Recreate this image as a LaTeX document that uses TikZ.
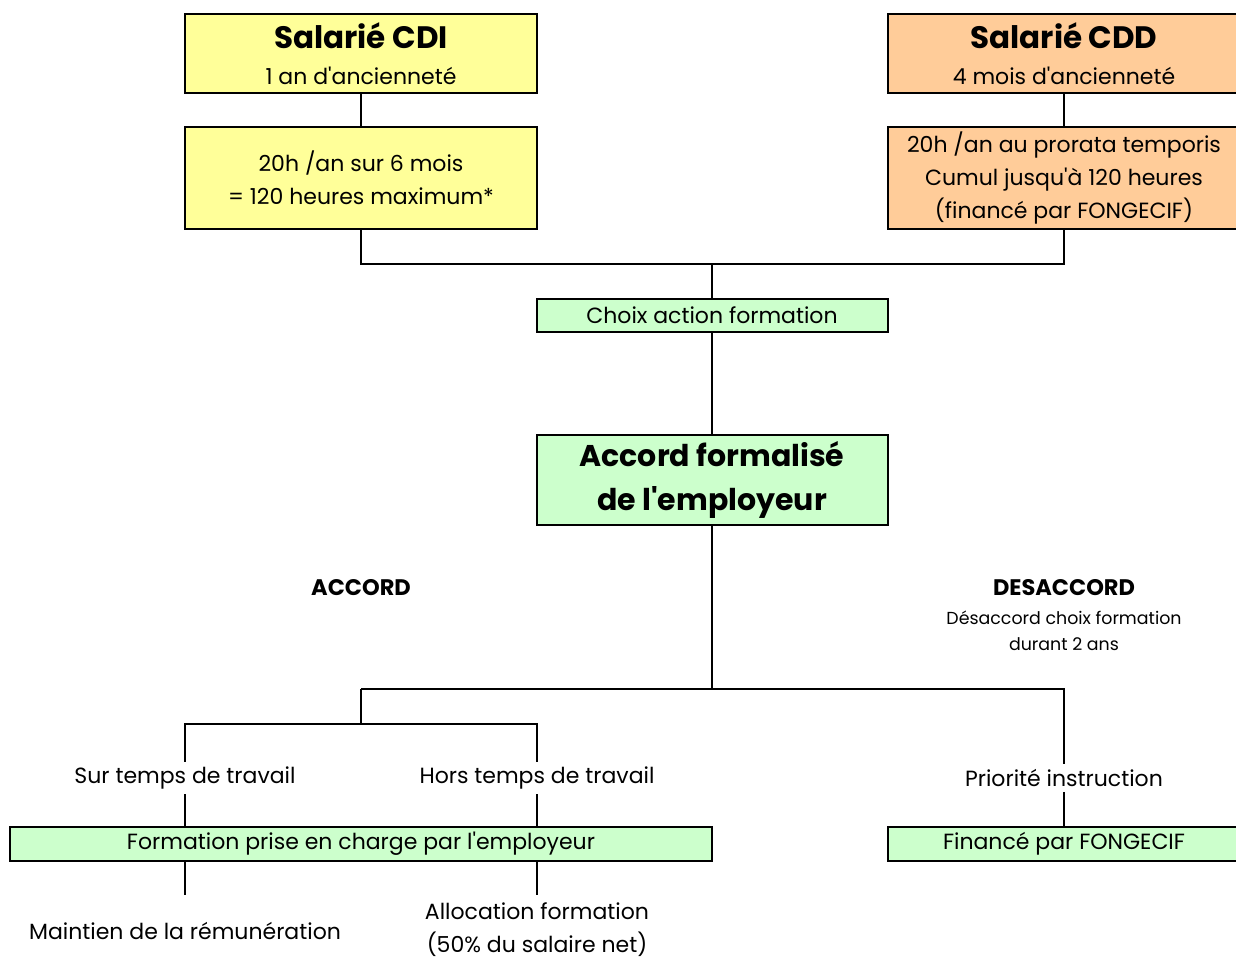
\documentclass[tikz,border=0pt]{standalone}
\usepackage{fontspec}
\setmainfont{Poppins}[Ligatures=TeXOff]
\definecolor{cyel}{HTML}{FFFF99}
\definecolor{corg}{HTML}{FFCC99}
\definecolor{cgrn}{HTML}{CCFFCC}
\begin{document}
\begin{tikzpicture}[x=1pt,y=-1pt,
  box/.style={draw=black,line width=2pt,rectangle,inner sep=0pt,align=center},
  reg/.style={font=\fontsize{22}{33}\selectfont},
  lbl/.style={font=\fontsize{22}{33}\selectfont,inner sep=5pt},
  sml/.style={font=\fontsize{17.4}{26}\selectfont},
  con/.style={line width=2pt}]
\useasboundingbox (0,0) rectangle (1236,960);
\clip (0,0) rectangle (1236,960);
% top boxes
\node[box,fill=cyel,minimum width=352pt,minimum height=79pt,font=\fontsize{22}{36}\selectfont] (cdi) at (361,53.5)
  {{\fontsize{31}{36}\selectfont\bfseries Salarié CDI}\\{\fontsize{22}{36}\selectfont 1 an d'ancienneté}};
\node[box,fill=cyel,minimum width=352pt,minimum height=102pt,reg] (cdi2) at (361,178)
  {20h /an sur 6 mois\\= 120 heures maximum*};
\node[box,fill=corg,minimum width=352pt,minimum height=79pt,font=\fontsize{22}{36}\selectfont] (cdd) at (1064,53.5)
  {{\fontsize{31}{36}\selectfont\bfseries Salarié CDD}\\{\fontsize{22}{36}\selectfont 4 mois d'ancienneté}};
\node[box,fill=corg,minimum width=352pt,minimum height=102pt,reg] (cdd2) at (1064,178)
  {20h /an au prorata temporis\\Cumul jusqu'à 120 heures\\(financé par FONGECIF)};
% middle
\node[box,fill=cgrn,minimum width=351pt,minimum height=33pt,reg] (choix) at (712,315.5) {Choix action formation};
\node[box,fill=cgrn,minimum width=351pt,minimum height=90pt,font=\fontsize{30}{44}\selectfont\bfseries] (acc) at (712,480)
  {Accord formalisé\\de l'employeur};
% labels
\node[font=\fontsize{22.5}{26}\selectfont\bfseries] (accord) at (361,588) {ACCORD};
\node[font=\fontsize{22.5}{26}\selectfont\bfseries] (desacc) at (1064,588) {DESACCORD};
\node[sml,align=center] (desacc2) at (1064,631) {Désaccord choix formation\\durant 2 ans};
\node[lbl] (sur) at (185,778) {Sur temps de travail};
\node[lbl] (hors) at (537,778) {Hors temps de travail};
\node[lbl] (prio) at (1064,778) {Priorité instruction};
% bottom boxes
\node[box,fill=cgrn,minimum width=702pt,minimum height=34pt,reg] (form) at (361,844) {Formation prise en charge par l'employeur};
\node[box,fill=cgrn,minimum width=352pt,minimum height=34pt,reg] (fin) at (1064,844) {Financé par FONGECIF};
\node[reg] (maint) at (185,931) {Maintien de la rémunération};
\node[reg,align=center] (alloc) at (537,930) {Allocation formation\\(50\% du salaire net)};
% junction coordinates
\coordinate (j1) at (712,264);
\coordinate (j2) at (712,689);
\coordinate (j3) at (361,724);
\coordinate (m1) at (185,895);
\coordinate (m2) at (537,895);
% connectors
\draw[con] (cdi.south) -- (cdi2.north);
\draw[con] (cdd.south) -- (cdd2.north);
\draw[con] (cdi2.south) |- (j1) -| (cdd2.south);
\draw[con] (j1) -- (choix.north);
\draw[con] (choix.south) -- (acc.north);
\draw[con] (acc.south) -- (j2);
\draw[con] (j3 |- j2) -- (j2 -| prio.north) -- (prio.north);
\draw[con] (j3 |- j2) -- (j3);
\draw[con] (sur.north) |- (j3) -| (hors.north);
\draw[con] (sur.south) -- (form.north -| sur);
\draw[con] (hors.south) -- (form.north -| hors);
\draw[con] (prio.south) -- (fin.north);
\draw[con] (form.south -| m1) -- (m1);
\draw[con] (form.south -| m2) -- (m2);
\end{tikzpicture}
\end{document}
